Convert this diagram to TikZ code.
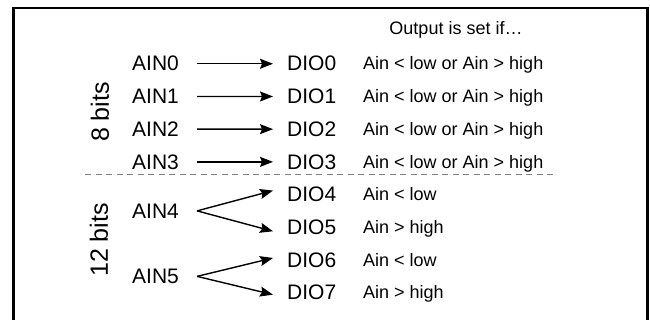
\documentclass[tikz,border=0pt]{standalone}
\usepackage{fontspec}
\setmainfont{Liberation Sans}
\usetikzlibrary{arrows.meta}
\begin{document}
\begin{tikzpicture}[x=1pt,y=-1pt,
  ain/.style={anchor=base west,inner sep=0pt,font=\fontsize{21}{24}\selectfont},
  dio/.style={anchor=base west,inner sep=0pt,font=\fontsize{21}{24}\selectfont},
  cond/.style={anchor=base west,inner sep=0pt,font=\fontsize{18}{22}\selectfont},
  bits/.style={rotate=90,inner sep=0pt,font=\fontsize{25}{28}\selectfont},
  arr/.style={line width=1.4pt,-{Stealth[length=13pt,width=10pt,inset=2pt]}},
  frame/.style={line width=2.5pt},
  sep/.style={line width=1pt,gray,dash pattern=on 6pt off 4.5pt}]
\useasboundingbox (0,0) rectangle (650,320);
\draw[frame] (13.5,321) -- (13.5,8) -- (647.5,8) -- (647.5,321);
% header
\node[cond,anchor=base] (hdr) at (456,34.5) {Output is set if…};
% rows 0-3
\foreach \i/\y in {0/63.5,1/96.2,2/128.9,3/161.6}{
  \node[ain] (a\i) at (132,\y+7.5) {AIN\i};
  \node[dio] (d\i) at (287,\y+7.5) {DIO\i};
  \node[cond] (c\i) at (363,\y+6.5) {Ain < low or Ain > high};
  \draw[arr] ([xshift=18pt]a\i.east) -- ([xshift=-14pt]d\i.west);
}
% rows 4-7
\foreach \i/\y/\t in {4/194.3/{Ain < low},5/227/{Ain > high},6/259.7/{Ain < low},7/292.4/{Ain > high}}{
  \node[dio] (d\i) at (287,\y+7.5) {DIO\i};
  \node[cond] (c\i) at (363,\y+6.5) {\t};
}
\node[ain] (a4) at (132,210.6+7.5) {AIN4};
\node[ain] (a5) at (132,276+7.5) {AIN5};
\draw[arr] ([xshift=18pt]a4.east) -- ([xshift=-14pt,yshift=4pt]d4.west);
\draw[arr] ([xshift=18pt]a4.east) -- ([xshift=-14pt,yshift=-4pt]d5.west);
\draw[arr] ([xshift=18pt]a5.east) -- ([xshift=-14pt,yshift=2pt]d6.west);
\draw[arr] ([xshift=18pt]a5.east) -- ([xshift=-14pt,yshift=-2pt]d7.west);
% separator
\coordinate (s1) at (85,175);
\coordinate (s2) at (553,175);
\draw[sep] (s1) -- (s2);
% bit labels
\node[bits] (b8) at (100,112) {8 bits};
\node[bits] (b12) at (99,240) {12 bits};
\end{tikzpicture}
\end{document}
